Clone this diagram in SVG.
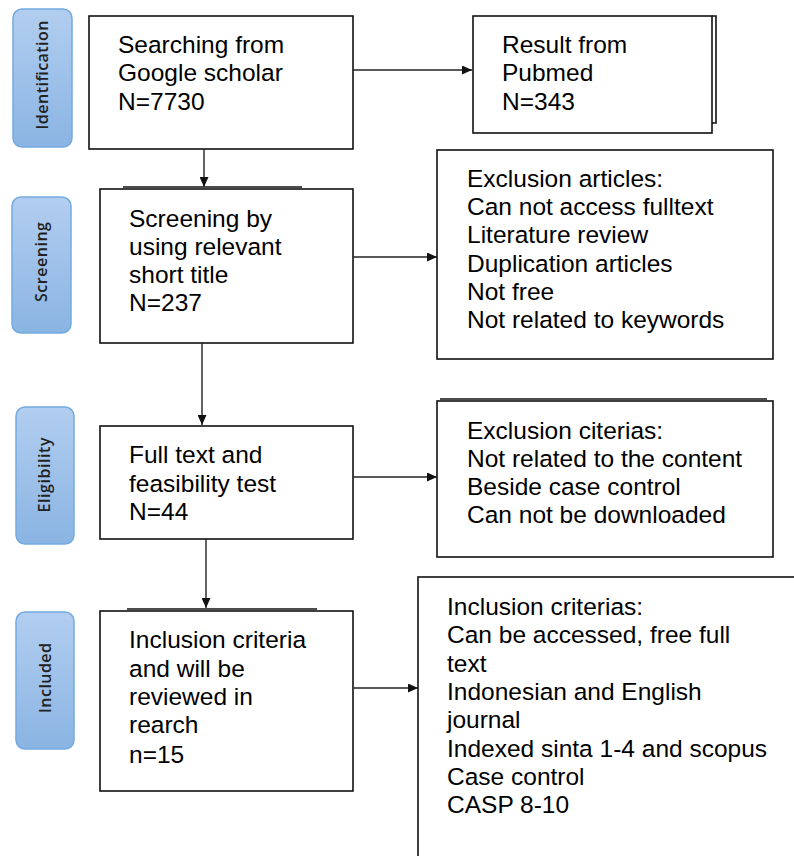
<svg xmlns="http://www.w3.org/2000/svg" width="794" height="856" viewBox="0 0 794 856">
<defs>
<linearGradient id="pill" x1="0" y1="0" x2="0" y2="1">
<stop offset="0" stop-color="#b2cef0"/>
<stop offset="1" stop-color="#8ab4e3"/>
</linearGradient>
<marker id="arr" markerUnits="userSpaceOnUse" markerWidth="10" markerHeight="9" refX="10" refY="4.5" orient="auto">
<path d="M0,0 L10,4.5 L0,9 z" fill="#111"/>
</marker>
<style>
.box{fill:#fff;stroke:#111;stroke-width:1.6}
.pill{fill:url(#pill);stroke:#74aadf;stroke-width:1.5}
.pt{font-family:"Open Sans","DejaVu Sans",sans-serif;font-size:16px;font-weight:600;fill:#222;text-anchor:middle}
.t{font-family:"Liberation Sans",Arial,sans-serif;font-size:24.5px;fill:#000}
.c{fill:none;stroke:#222;stroke-width:1.4}
.edge{stroke:#111;stroke-width:1.6;fill:none}
</style>
</defs>
<rect width="794" height="856" fill="#fff"/>

<g id="stage-identification">
<rect class="pill" x="13" y="9" width="59" height="138" rx="9"/>
<text class="pt" transform="translate(48,75) rotate(-90)" textLength="109" lengthAdjust="spacing">Identification</text>
</g>
<g id="stage-screening">
<rect class="pill" x="12" y="197" width="59" height="136" rx="9"/>
<text class="pt" transform="translate(47,262) rotate(-90)" textLength="80" lengthAdjust="spacing">Screening</text>
</g>
<g id="stage-eligibility">
<rect class="pill" x="16" y="407" width="58" height="137" rx="9"/>
<text class="pt" transform="translate(50,475) rotate(-90)" textLength="75" lengthAdjust="spacing">Eligibility</text>
</g>
<g id="stage-included">
<rect class="pill" x="16" y="612" width="58" height="137" rx="9"/>
<text class="pt" transform="translate(51,678) rotate(-90)" textLength="70" lengthAdjust="spacing">Included</text>
</g>

<g id="n-google">
<rect class="box" x="89" y="16" width="264" height="133"/>
<text class="t" x="118" y="53">Searching from</text>
<text class="t" x="118" y="81">Google scholar</text>
<text class="t" x="118" y="110">N=7730</text>
</g>
<g id="n-pubmed">
<path class="edge" d="M712,16 H716 V123 H712"/>
<rect class="box" x="473" y="16" width="239" height="117"/>
<text class="t" x="502" y="53">Result from</text>
<text class="t" x="502" y="81">Pubmed</text>
<text class="t" x="502" y="110">N=343</text>
</g>
<g id="n-screening">
<line class="edge" x1="123" y1="187" x2="302" y2="187"/>
<rect class="box" x="100" y="189" width="253" height="154"/>
<text class="t" x="129" y="227">Screening by</text>
<text class="t" x="129" y="255">using relevant</text>
<text class="t" x="129" y="283">short title</text>
<text class="t" x="129" y="311">N=237</text>
</g>
<g id="n-exclusion-articles">
<rect class="box" x="437" y="150" width="336" height="209"/>
<text class="t" x="467" y="187">Exclusion articles:</text>
<text class="t" x="467" y="215">Can not access fulltext</text>
<text class="t" x="467" y="243">Literature review</text>
<text class="t" x="467" y="272">Duplication articles</text>
<text class="t" x="467" y="300">Not free</text>
<text class="t" x="467" y="328">Not related to keywords</text>
</g>
<g id="n-fulltext">
<rect class="box" x="100" y="426" width="253" height="113"/>
<text class="t" x="129" y="463">Full text and</text>
<text class="t" x="129" y="492">feasibility test</text>
<text class="t" x="129" y="520">N=44</text>
</g>
<g id="n-exclusion-criterias">
<line class="edge" x1="440" y1="399" x2="767" y2="399"/>
<rect class="box" x="437" y="401" width="336" height="156"/>
<text class="t" x="467" y="439">Exclusion citerias:</text>
<text class="t" x="467" y="467">Not related to the content</text>
<text class="t" x="467" y="495">Beside case control</text>
<text class="t" x="467" y="523">Can not be downloaded</text>
</g>
<g id="n-included">
<line class="edge" x1="127" y1="609" x2="317" y2="609"/>
<rect class="box" x="100" y="611" width="253" height="180"/>
<text class="t" x="129" y="648">Inclusion criteria</text>
<text class="t" x="129" y="677">and will be</text>
<text class="t" x="129" y="705">reviewed in</text>
<text class="t" x="129" y="733">rearch</text>
<text class="t" x="129" y="763">n=15</text>
</g>
<g id="n-inclusion-criterias">
<rect class="box" x="418" y="577" width="400" height="300"/>
<text class="t" x="447" y="615">Inclusion criterias:</text>
<text class="t" x="447" y="643">Can be accessed, free full</text>
<text class="t" x="447" y="672">text</text>
<text class="t" x="447" y="700">Indonesian and English</text>
<text class="t" x="447" y="728">journal</text>
<text class="t" x="447" y="757">Indexed sinta 1-4 and scopus</text>
<text class="t" x="447" y="785">Case control</text>
<text class="t" x="447" y="813">CASP 8-10</text>
</g>

<g id="connectors">
<path class="c" d="M353,70 H472" marker-end="url(#arr)"/>
<path class="c" d="M204,149 V187" marker-end="url(#arr)"/>
<path class="c" d="M353,257 H437" marker-end="url(#arr)"/>
<path class="c" d="M202,343 V425" marker-end="url(#arr)"/>
<path class="c" d="M353,477 H437" marker-end="url(#arr)"/>
<path class="c" d="M206,539 V608" marker-end="url(#arr)"/>
<path class="c" d="M353,688 H418" marker-end="url(#arr)"/>
</g>
</svg>
